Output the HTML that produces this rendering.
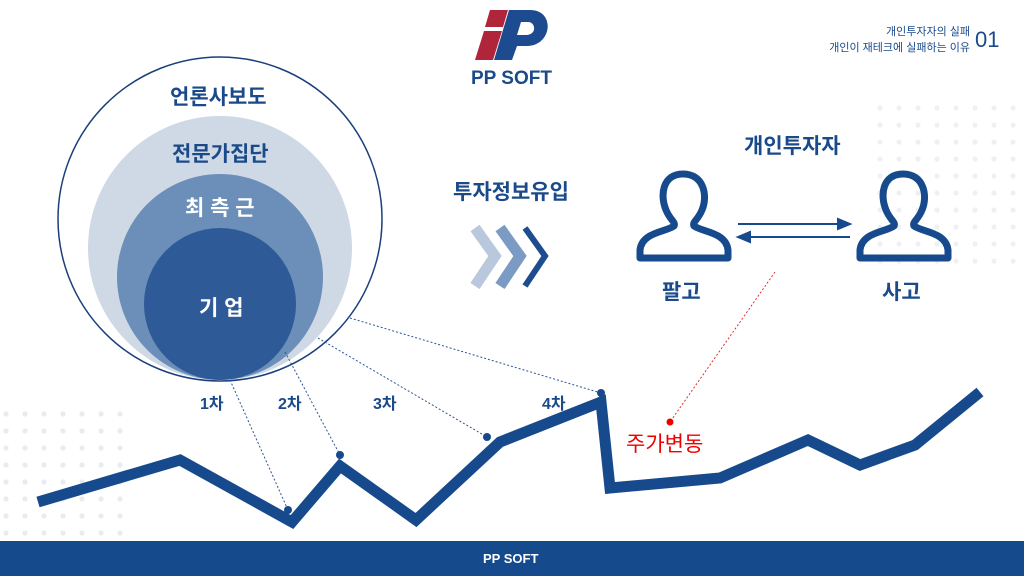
<html><head><style>
body{margin:0;width:1024px;height:576px;overflow:hidden;background:#fff;font-family:"Liberation Sans","Noto Sans CJK KR",sans-serif;position:relative}
.t{position:absolute;font-weight:bold;color:#1a4a8a;white-space:nowrap}
</style></head><body>
<svg width="1024" height="576" style="position:absolute;left:0;top:0">
<defs><pattern id="d" width="19" height="17" patternUnits="userSpaceOnUse"><circle cx="6" cy="6" r="2.6" fill="#e8ebf2"/></pattern>
<pattern id="d2" width="19" height="17" patternUnits="userSpaceOnUse"><circle cx="6" cy="6" r="2.6" fill="#eef0f5"/></pattern></defs>
<rect x="0" y="410" width="135" height="130" fill="url(#d)"/>
<rect x="875" y="105" width="149" height="160" fill="url(#d2)"/>
<circle cx="220" cy="219" r="162" fill="#fff" stroke="#1a3f7a" stroke-width="1.5"/>
<circle cx="220" cy="248" r="132" fill="#cfd9e6"/>
<circle cx="220" cy="277" r="103" fill="#6c8fba"/>
<circle cx="220" cy="304" r="76" fill="#2f5a98"/>
<g fill="none" stroke="#2a5598" stroke-width="1" stroke-dasharray="2,2">
<line x1="230" y1="380" x2="288" y2="510"/>
<line x1="285" y1="352" x2="340" y2="455"/>
<line x1="318" y1="338" x2="487" y2="437"/>
<line x1="350" y1="318" x2="601" y2="393"/>
</g>
<line x1="775" y1="272" x2="670" y2="422" stroke="#e03030" stroke-width="1" stroke-dasharray="2,2"/>
<circle cx="670" cy="422" r="3.5" fill="#e00"/>
<polyline points="38,502 180,460 292,522 340,466 416,520 500,442 601,402 610,488 720,478 808,440 860,465 915,445 980,392" fill="none" stroke="#174a8c" stroke-width="11"/>
<g fill="#174a8c"><circle cx="288" cy="510" r="4"/><circle cx="340" cy="455" r="4"/><circle cx="487" cy="437" r="4"/><circle cx="601" cy="393" r="4"/></g>
<polyline points="475,228 495,256 475,286" fill="none" stroke="#b9c8dc" stroke-width="11"/>
<polyline points="500,228 520,256 500,286" fill="none" stroke="#7b9ac4" stroke-width="11"/>
<polyline points="525,228 545,256 525,286" fill="none" stroke="#1d4d8e" stroke-width="6"/>
<g fill="none" stroke="#174a8c" stroke-width="7" stroke-linejoin="round">
<path d="M683,174 C662,174 660,196 666,210 C670,220 676,222 674,226 C666,232 642,232 640,250 L640,258 L728,258 L728,250 C726,232 702,232 694,226 C692,222 698,220 702,210 C708,196 704,174 683,174Z"/>
<path d="M903,174 C882,174 880,196 886,210 C890,220 896,222 894,226 C886,232 862,232 860,250 L860,258 L948,258 L948,250 C946,232 922,232 914,226 C912,222 918,220 922,210 C928,196 924,174 903,174Z"/>
</g>
<g stroke="#174a8c" stroke-width="2" fill="#174a8c">
<line x1="738" y1="224" x2="842" y2="224"/><polygon points="850,224 838,219 838,229"/>
<line x1="746" y1="237" x2="850" y2="237"/><polygon points="738,237 750,232 750,242"/>
</g>
<polygon points="490,10 508,10 503,27 485,27" fill="#b0253a"/>
<polygon points="484,31 502,31 493,60 475,60" fill="#b0253a"/>
<path d="M509,10 L530,10 C556,10 552,46 527,46 L517,46 L512,60 L494,60Z M521,22 L517,35 L526,35 C537,35 536,22 528,22Z" fill="#1d4b8f" fill-rule="evenodd"/>
<rect x="0" y="541" width="1024" height="35" fill="#154a8c"/>
</svg>
<div class="t" style="left:471px;top:68px;font-size:19px">PP SOFT</div>
<div class="t" style="left:820px;top:24px;font-size:11px;font-weight:normal;color:#1a4a8a;text-align:right;width:150px;line-height:16px">개인투자자의 실패<br>개인이 재테크에 실패하는 이유</div>
<div class="t" style="left:975px;top:27px;font-size:22px;font-weight:normal">01</div>
<div class="t" style="left:170px;top:81px;font-size:21px">언론사보도</div>
<div class="t" style="left:172px;top:138px;font-size:21px">전문가집단</div>
<div class="t" style="left:185px;top:192px;font-size:21px;color:#fff">최 측 근</div>
<div class="t" style="left:199px;top:292px;font-size:21px;color:#fff">기 업</div>
<div class="t" style="left:200px;top:390px;font-size:16px">1차</div>
<div class="t" style="left:278px;top:390px;font-size:16px">2차</div>
<div class="t" style="left:373px;top:390px;font-size:16px">3차</div>
<div class="t" style="left:542px;top:390px;font-size:16px">4차</div>
<div class="t" style="left:453px;top:176px;font-size:21px">투자정보유입</div>
<div class="t" style="left:744px;top:130px;font-size:21px">개인투자자</div>
<div class="t" style="left:662px;top:276px;font-size:21px">팔고</div>
<div class="t" style="left:882px;top:276px;font-size:21px">사고</div>
<div class="t" style="left:626px;top:428px;font-size:21px;color:#e00;font-weight:normal">주가변동</div>
<div class="t" style="left:483px;top:551px;font-size:13px;color:#fff">PP SOFT</div>
</body></html>
